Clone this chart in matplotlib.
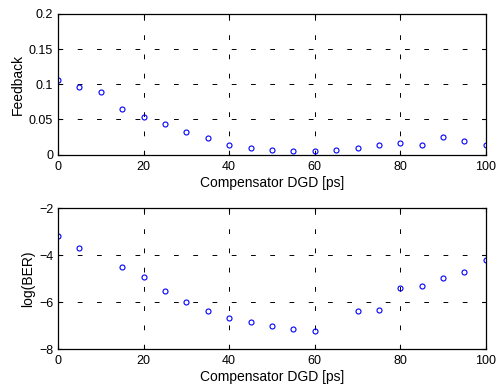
import numpy as np
import matplotlib
matplotlib.use("Agg")
from matplotlib import pyplot as plt

plt.rcParams['font.family'] = ['Liberation Sans', 'DejaVu Sans']

# compensator DGD sweep [ps]
dgd_fb = [0, 5, 10, 15, 20, 25, 30, 35, 40, 45, 50, 55, 60, 65, 70, 75, 80, 85, 90, 95, 100]
feedback = [0.106, 0.0957, 0.0886, 0.0654, 0.0531, 0.0436, 0.0327, 0.0232, 0.0137, 0.009,
            0.0062, 0.0043, 0.0043, 0.0071, 0.009, 0.0142, 0.0161, 0.0137, 0.0246, 0.019, 0.0133]

dgd_ber = [0, 5, 15, 20, 25, 30, 35, 40, 45, 50, 55, 60, 70, 75, 80, 85, 90, 95, 100]
log_ber = [-3.17, -3.70, -4.52, -4.93, -5.51, -5.99, -6.37, -6.68, -6.83, -7.0, -7.15, -7.22,
           -6.37, -6.32, -5.41, -5.30, -4.99, -4.70, -4.22]

fig = plt.figure(figsize=(5.01, 3.85), dpi=100)
ax1 = fig.add_axes([0.1158, 0.5987, 0.854, 0.365])
ax2 = fig.add_axes([0.1158, 0.0935, 0.854, 0.366])


def style(ax, yticks, ylim, ylabel):
    ax.set_xlim(0, 100)
    ax.set_ylim(*ylim)
    ax.set_xticks([0, 20, 40, 60, 80, 100])
    ax.set_yticks(yticks)
    ax.grid(True, color='black', linestyle=(0, (4.9, 14.9)), linewidth=0.7)
    ax.tick_params(direction='in', length=3, labelsize=9, top=True, right=True)
    ax.tick_params(axis='x', pad=4.5)
    ax.tick_params(axis='y', pad=3.5)
    for s in ax.spines.values():
        s.set_linewidth(0.9)
    ax.set_xlabel('Compensator DGD [ps]', fontsize=10, labelpad=2)
    ax.set_ylabel(ylabel, fontsize=10, labelpad=3)


ax1.plot(dgd_fb, feedback, 'o', mfc='none', mec='blue', ms=3.6, mew=0.8)
style(ax1, [0, 0.05, 0.1, 0.15, 0.2], (0, 0.2), 'Feedback')
ax1.set_yticklabels(['0', '0.05', '0.1', '0.15', '0.2'])

ax2.plot(dgd_ber, log_ber, 'o', mfc='none', mec='blue', ms=3.6, mew=0.8)
style(ax2, [-8, -6, -4, -2], (-8, -2), 'log(BER)')

fig.savefig('out.png', dpi=100)
